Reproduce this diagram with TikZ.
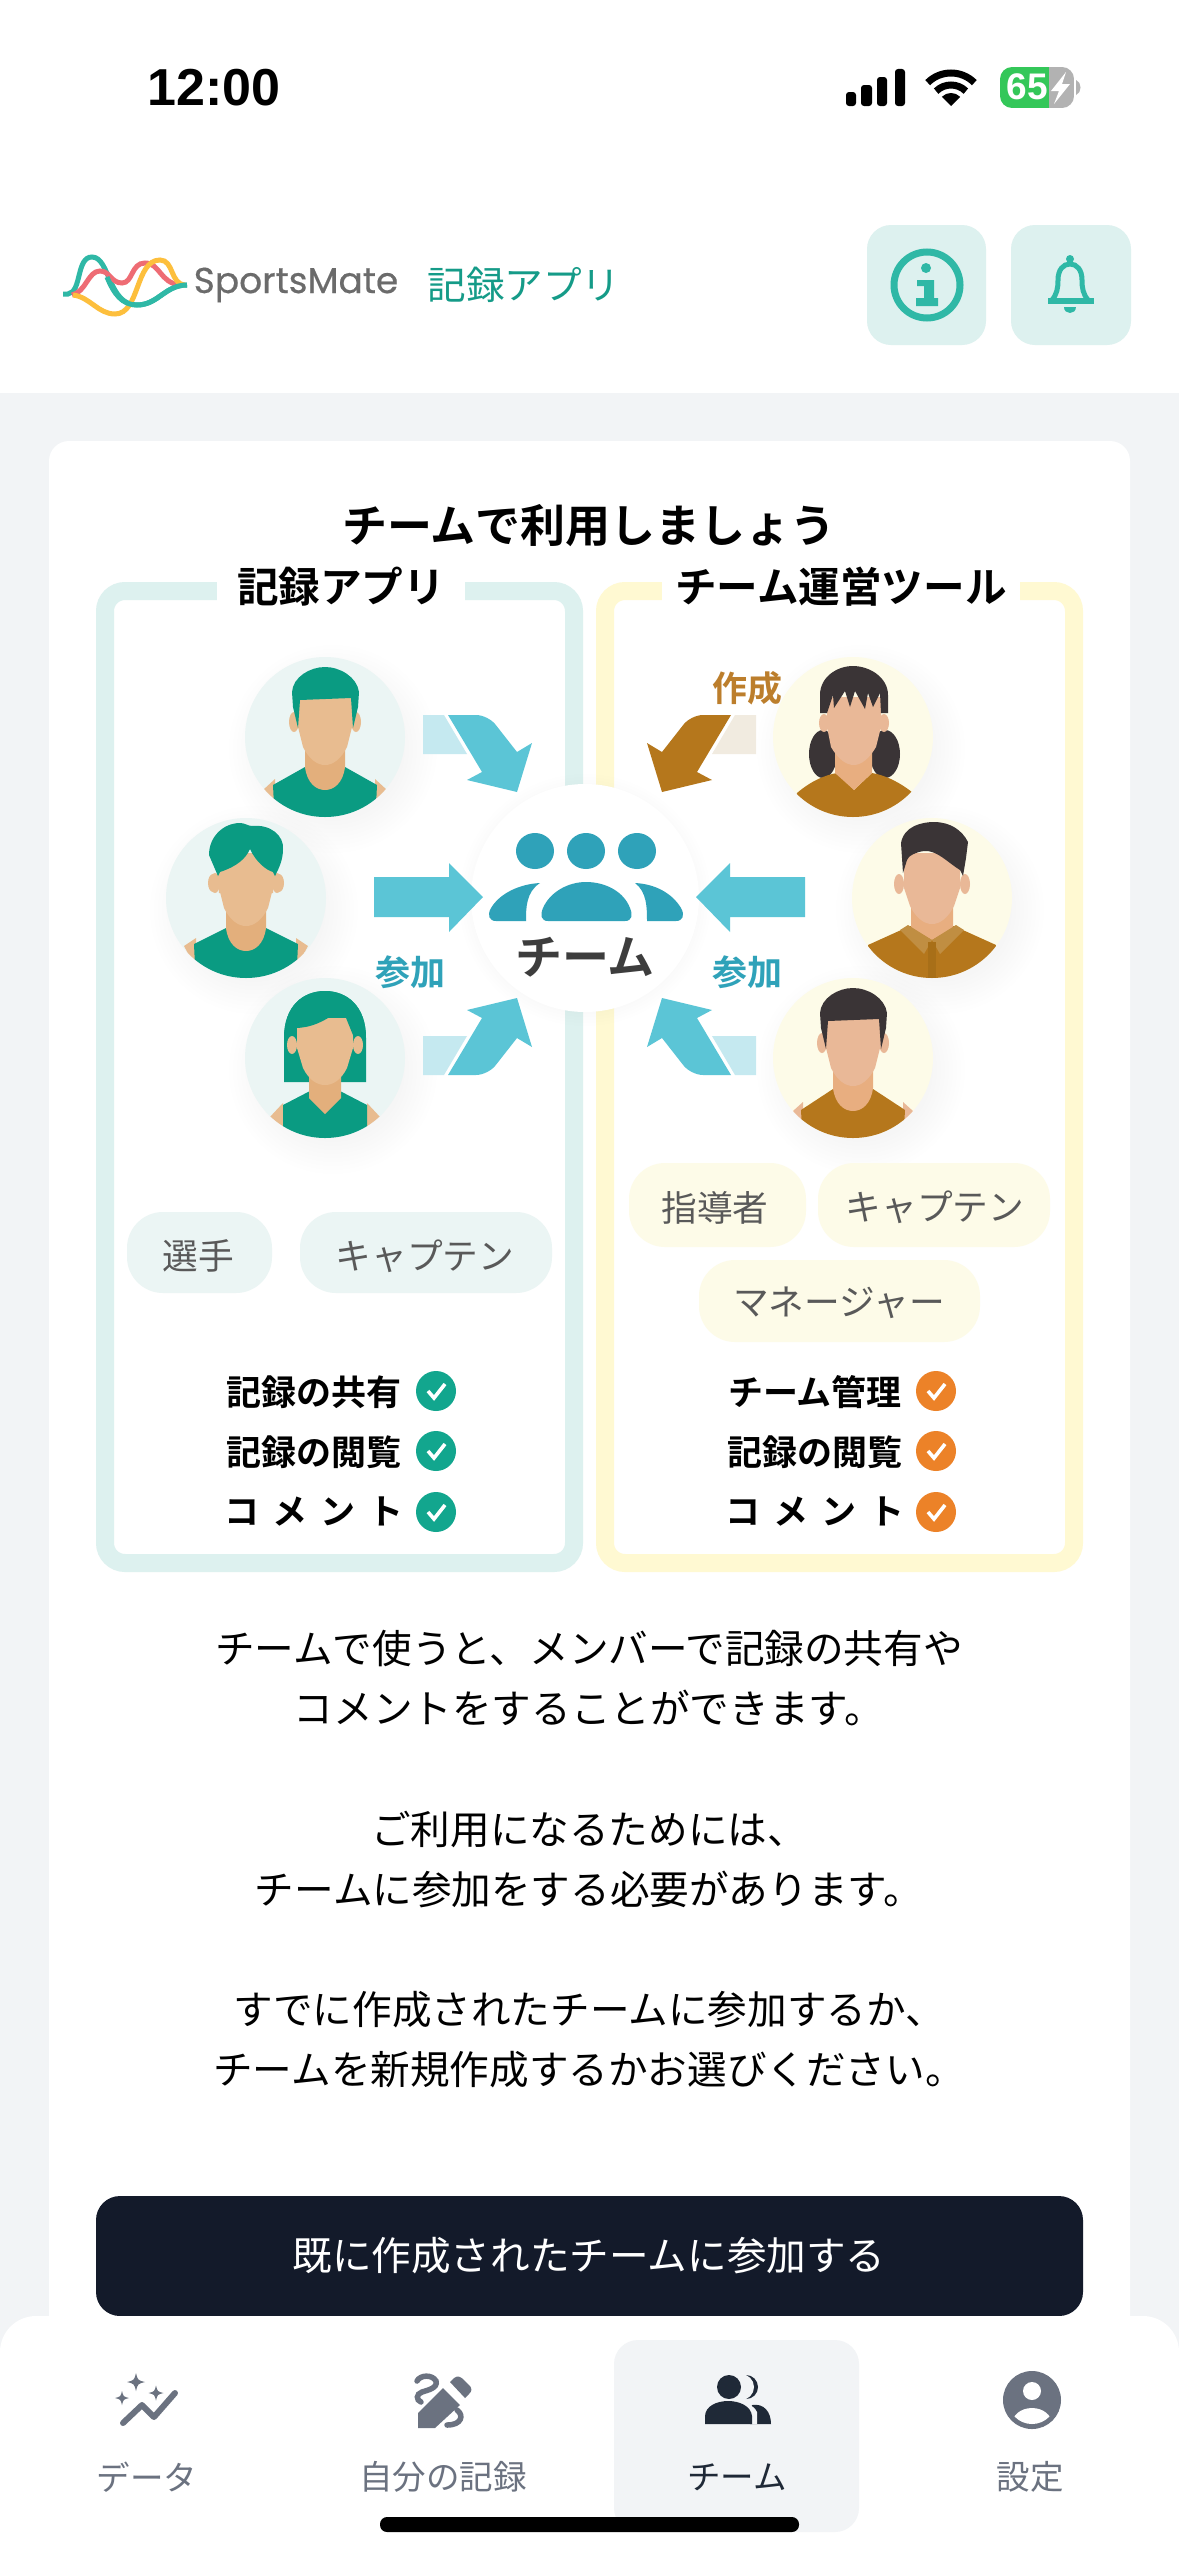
\documentclass[tikz,border=0pt]{standalone}
\usepackage{fontspec}
\usepackage{xcolor}
\setmainfont[BoldFont={Noto Sans CJK JP Bold}]{Noto Sans CJK JP}
\newfontfamily\latinfont{Liberation Sans}
\newfontfamily\logofont[FakeBold=.5]{Poppins}
\newcommand{\fsz}[1]{\fontsize{#1pt}{#1pt}\selectfont}

\definecolor{pagegray}{HTML}{F2F4F6}
\definecolor{tealpale}{HTML}{DDF1EF}
\definecolor{tealicon}{HTML}{2FB8A6}
\definecolor{tealtext}{HTML}{159B88}
\definecolor{tealdisc}{HTML}{EBF5F4}
\definecolor{creamline}{HTML}{FFF9D2}
\definecolor{creamdisc}{HTML}{FDFBE8}
\definecolor{shirtgreen}{HTML}{0A9B82}
\definecolor{shirtbrown}{HTML}{B5771C}
\definecolor{collarbrown}{HTML}{C08E42}
\definecolor{placketbrown}{HTML}{A86F18}
\definecolor{skinlight}{HTML}{E8BC90}
\definecolor{necklight}{HTML}{E3AF7C}
\definecolor{skinwarm}{HTML}{E9B897}
\definecolor{neckwarm}{HTML}{E8AE80}
\definecolor{hairdark}{HTML}{3A3436}
\definecolor{arrowblue}{HTML}{5BC5D6}
\definecolor{arrowpale}{HTML}{C5E9F0}
\definecolor{arrowsand}{HTML}{F1EBE0}
\definecolor{teamblue}{HTML}{2FA2B9}
\definecolor{labelbrown}{HTML}{BC7E2C}
\definecolor{checkgreen}{HTML}{12A68E}
\definecolor{checkorange}{HTML}{EC8228}
\definecolor{buttonnavy}{HTML}{131A2A}
\definecolor{tabgray}{HTML}{6B7280}
\definecolor{tabdark}{HTML}{1F2937}
\definecolor{batterygreen}{HTML}{34C759}
\definecolor{logoyellow}{HTML}{FDBF3D}
\definecolor{logored}{HTML}{EE6C74}

\tikzstyle{txt}=[inner sep=0pt,text=black]
\tikzstyle{body}=[txt,font=\fsz{39.6}]
\tikzstyle{tabtxt}=[txt,font=\fsz{33.5},text=tabgray]
\tikzstyle{rolepill}=[rounded corners=36pt]
\tikzstyle{roletxt}=[txt,font=\fsz{35.7},text=black!65]
\tikzstyle{feature}=[txt,font=\fsz{35}\bfseries]
\tikzstyle{joinlabel}=[txt,font=\fsz{35}\bfseries,text=teamblue]
\tikzstyle{panel}=[line width=18pt,rounded corners=20pt]
\tikzstyle{paneltitle}=[txt,fill=white,font=\fsz{41.6}\bfseries]

% one disc with its soft shadow, origin at the disc centre
\newcommand{\avatardisc}[1]{
  \foreach \r in {72,76,...,104} {\fill[black,opacity=.004] (8,12) circle (\r);}
  \fill[#1] (0,0) circle (80);
}
\newcommand{\facehead}[2]{
  \fill[#1] (-31,-15) ellipse (5 and 10);
  \fill[#1] (31,-15) ellipse (5 and 10);
  \fill[#2] (-20,8) -- (-20,30) .. controls (-18,46) and (-9,53) .. (0,53) .. controls (9,53) and (18,46) .. (20,30) -- (20,8) -- cycle;
  \fill[#1] (-27,-45) -- (27,-45) -- (27,-10) -- (22,10) .. controls (16,22) and (8,28) .. (0,28) .. controls (-8,28) and (-16,22) .. (-22,10) -- (-27,-10) -- cycle;
}
\newcommand{\shorthair}[1]{
  \fill[#1] (-27,-9) -- (-32,-30) -- (-33,-45) .. controls (-32,-60) and (-15,-70) .. (0,-70) .. controls (15,-70) and (32,-60) .. (34,-45) -- (33,-30) -- (28,-9) -- (26,-39) -- (-25,-37) -- cycle;
}
\newcommand{\sparklestar}[3]{
  \fill[tabgray] (#1,#2-#3) .. controls (#1+#3*.2,#2-#3*.2) .. (#1+#3,#2) .. controls (#1+#3*.2,#2+#3*.2) .. (#1,#2+#3) .. controls (#1-#3*.2,#2+#3*.2) .. (#1-#3,#2) .. controls (#1-#3*.2,#2-#3*.2) .. cycle;
}
\newcommand{\tickdisc}[3]{
  \fill[#1] (#2,#3) circle (20);
  \draw[white,line width=3.6pt] (#2-8,#3+0) -- (#2-2,#3+7) -- (#2+9,#3-7);
}
\newcommand{\arrowdiag}[4]{
  \begin{scope}[shift={(589.5,895)},xscale=#1,yscale=#2]
    \fill[#4] (-166.5,-180) -- (-145.5,-180) -- (-122.5,-141) -- (-166.5,-141) -- cycle;
    \fill[#3] (-141.5,-180) [rounded corners=12pt] -- (-101.5,-180) [sharp corners] -- (-72.5,-143) -- (-57.5,-152) -- (-72.5,-103) -- (-122.5,-115) -- (-107.5,-123) -- cycle;
  \end{scope}
}
\newcommand{\arrowflat}[1]{
  \begin{scope}[shift={(589.5,895)},xscale=#1]
    \fill[arrowblue] (-215.5,-18) -- (-140.5,-18) -- (-140.5,-32) -- (-106.5,2) -- (-140.5,37) -- (-140.5,22) -- (-215.5,22) -- cycle;
  \end{scope}
}

\begin{document}
\begin{tikzpicture}[x=1pt,y=-1pt]
  \useasboundingbox (0,0) rectangle (1179,2556);
  \fill[pagegray] (0,0) rectangle (1179,2556);
  \fill[white] (0,0) rectangle (1179,393);
  \fill[white,rounded corners=20pt] (49,441) rectangle (1130,2400);

  % status bar
  \node at (214,88) [txt,font=\latinfont\fsz{52}\bfseries] (time) {12:00};
  \fill[rounded corners=3pt] (846,92) rectangle (856,106);
  \fill[rounded corners=3pt] (861,85) rectangle (872,106);
  \fill[rounded corners=3pt] (877,77) rectangle (887,106);
  \fill[rounded corners=3pt] (895,69) rectangle (905,106);
  \begin{scope}[shift={(951,106)},yscale=-1]
    \fill (0,0) -- (45:13) arc (45:135:13) -- cycle;
    \draw[line width=7pt] (45:21) arc (45:135:21);
    \draw[line width=7pt] (45:33) arc (45:135:33);
  \end{scope}
  \fill[black!30] (1076,80) .. controls (1082,82) and (1082,93) .. (1076,95) -- cycle;
  \begin{scope}
    \clip[rounded corners=12pt] (1000,67) rectangle (1074,108);
    \fill[batterygreen] (1000,67) rectangle (1049,108);
    \fill[black!30] (1049,67) rectangle (1074,108);
  \end{scope}
  \node at (1027,87) [txt,text=white,font=\latinfont\fsz{37}\bfseries] (battery) {65};
  \fill[white] (1066,72) -- (1051,91) -- (1059,91) -- (1054,104) -- (1070,84) -- (1062,84) -- cycle;

  % header
  \draw[tealicon,line width=5pt] (63,294) -- (68,294) .. controls (82,292) and (76,257) .. (92,257) .. controls (110,257) and (108,305) .. (137,305) .. controls (158,305) and (165,285) .. (187,285);
  \draw[logored,line width=5pt] (72,295) .. controls (86,292) and (88,271) .. (100,271) .. controls (110,271) and (111,283) .. (122,283) .. controls (133,283) and (131,263) .. (145,263) .. controls (160,263) and (160,283) .. (180,285);
  \draw[logoyellow,line width=5pt] (73,295) .. controls (90,297) and (98,314) .. (115,314) .. controls (140,314) and (135,260) .. (160,260) .. controls (174,260) and (170,284) .. (185,285);
  \draw[tealicon,line width=5pt] (107,277) .. controls (114,294) and (122,305) .. (137,305) .. controls (158,305) and (165,285) .. (187,285);
  \node at (296,285) [txt,text=black!58,font=\logofont\fsz{36}] (logo) {SportsMate};
  \node at (524,285) [txt,text=tealtext,font=\fsz{38.6}] (appname) {記録アプリ};
  \fill[tealpale,rounded corners=24pt] (867,225) rectangle (986,345);
  \fill[tealpale,rounded corners=24pt] (1011,225) rectangle (1131,345);
  \draw[tealicon,line width=7pt] (927,285) circle (33);
  \fill[tealicon] (926,268) circle (5);
  \fill[tealicon] (917,280) -- (934,280) -- (934,298) -- (938,298) -- (938,306) -- (916,306) -- (916,298) -- (924,298) -- (924,286) -- (917,286) -- cycle;
  \draw[tealicon,line width=5pt] (1052,300) .. controls (1057,294) and (1058,288) .. (1058,280) .. controls (1058,270) and (1063,264) .. (1070,264) .. controls (1077,264) and (1082,270) .. (1082,280) .. controls (1082,288) and (1083,294) .. (1088,300);
  \fill[tealicon] (1048,298) rectangle (1094,304);
  \fill[tealicon] (1070,259) circle (4);
  \fill[tealicon] (1064,307) -- (1076,307) .. controls (1076,315) and (1064,315) .. (1064,307) -- cycle;

  % card heading and panels
  \node at (589,526) [txt,font=\fsz{45}\bfseries] (heading) {チームで利用しましょう};
  \draw[panel,draw=tealpale] (105,591) rectangle (574,1563);
  \draw[panel,draw=creamline] (605,591) rectangle (1074,1563);
  \node at (341,587) [paneltitle,minimum width=248pt,minimum height=44pt] (recordtitle) {記録アプリ};
  \node at (841,587) [paneltitle,minimum width=358pt,minimum height=44pt] (teamtitle) {チーム運営ツール};

  % left avatars
  \begin{scope}[shift={(325,737)}]
    \avatardisc{tealdisc}
    \begin{scope}
      \clip (0,0) circle (80);
      \fill[skinlight] (-62,53) -- (-50,42) -- (-50,70) -- cycle;
      \fill[skinlight] (62,53) -- (50,42) -- (50,70) -- cycle;
      \fill[shirtgreen] (-52,48) -- (-20,30) -- (20,30) -- (52,48) -- (50,90) -- (-50,90) -- cycle;
      \facehead{skinlight}{necklight}
      \shorthair{shirtgreen}
    \end{scope}
  \end{scope}
  \begin{scope}[shift={(246,898)}]
    \avatardisc{tealdisc}
    \begin{scope}
      \clip (0,0) circle (80);
      \fill[skinlight] (-62,48) -- (-50,40) -- (-50,70) -- cycle;
      \fill[skinlight] (62,48) -- (50,40) -- (50,70) -- cycle;
      \fill[shirtgreen] (-52,46) -- (-20,30) -- (20,30) -- (52,46) -- (50,90) -- (-50,90) -- cycle;
      \facehead{skinlight}{necklight}
      \fill[skinlight] (-29,-35) -- (29,-35) -- (27,-5) -- (-27,-5) -- cycle;
      \fill[skinlight] (-33,-15) ellipse (5 and 9);
      \fill[skinlight] (33,-15) ellipse (5 and 9);
      \fill[shirtgreen] (-28,-22) -- (-37,-43) .. controls (-37,-62) and (-22,-75) .. (-6,-75) .. controls (-1,-75) and (2,-72) .. (6,-72) .. controls (25,-74) and (38,-62) .. (37,-49) .. controls (37,-38) and (33,-30) .. (29,-22) -- (27,-26) .. controls (20,-28) and (10,-36) .. (4,-49) .. controls (0,-40) and (-8,-32) .. (-26,-26) -- cycle;
    \end{scope}
  \end{scope}
  \begin{scope}[shift={(325,1058)}]
    \avatardisc{tealdisc}
    \begin{scope}
      \clip (0,0) circle (80);
      \fill[shirtgreen] (-41,24) -- (-41,-20) .. controls (-41,-52) and (-22,-67) .. (0,-67) .. controls (22,-67) and (41,-52) .. (41,-20) -- (41,24) -- cycle;
      \fill[skinlight] (-42,45) -- (-56,60) -- (-42,76) -- cycle;
      \fill[skinlight] (42,45) -- (56,60) -- (42,76) -- cycle;
      \fill[shirtgreen] (-42,47) -- (-15,33) -- (15,33) -- (42,47) -- (42,90) -- (-42,90) -- cycle;
      \fill[necklight] (-16,10) -- (-16,40) -- (0,56) -- (16,40) -- (16,10) -- cycle;
      \fill[skinlight] (-28,-40) -- (28,-40) -- (28,-10) -- (22,10) .. controls (16,22) and (8,27) .. (0,27) .. controls (-8,27) and (-16,22) .. (-22,10) -- (-28,-10) -- cycle;
      \fill[shirtgreen] (-41,-20) .. controls (-41,-52) and (-22,-67) .. (0,-67) .. controls (22,-67) and (41,-52) .. (41,-20) -- (30,-18) -- (17,-50) .. controls (0,-36) and (-15,-30) .. (-30,-30) -- (-30,-20) -- cycle;
      \fill[skinlight] (-33,-13) ellipse (5 and 9);
      \fill[skinlight] (33,-13) ellipse (5 and 9);
    \end{scope}
  \end{scope}

  % right avatars
  \begin{scope}[shift={(853,737)}]
    \avatardisc{creamdisc}
    \begin{scope}
      \clip (0,0) circle (80);
      \fill[hairdark] (-30,17) ellipse (14 and 24);
      \fill[hairdark] (32,17) ellipse (15 and 24);
      \fill[shirtbrown] (-56,56) .. controls (-42,44) and (-28,38) .. (-16,36) -- (1,53) -- (19,36) .. controls (32,38) and (48,46) .. (60,56) -- (60,90) -- (-60,90) -- cycle;
      \fill[neckwarm] (-18,10) -- (-18,36) -- (1,53) -- (19,36) -- (19,10) -- cycle;
      \fill[skinwarm] (-29,-14) ellipse (5 and 9);
      \fill[skinwarm] (31,-14) ellipse (5 and 9);
      \fill[skinwarm] (-26,-40) -- (28,-40) -- (28,-10) -- (23,10) .. controls (16,22) and (8,28) .. (1,28) .. controls (-7,28) and (-15,22) .. (-22,10) -- (-26,-10) -- cycle;
      \fill[hairdark] (-26,-24) -- (-33,-24) -- (-33,-42) .. controls (-33,-60) and (-16,-71) .. (0,-71) .. controls (16,-71) and (35,-60) .. (35,-42) -- (35,-24) -- (28,-24) -- (27,-44) -- (20,-30) -- (15,-44) -- (12,-28) -- (2,-46) -- (-3,-30) -- (-8,-46) -- (-19,-29) -- (-20,-42) -- cycle;
    \end{scope}
  \end{scope}
  \begin{scope}[shift={(932,898)}]
    \avatardisc{creamdisc}
    \begin{scope}
      \clip (0,0) circle (80);
      \fill[shirtbrown] (-64,47) -- (-22,28) -- (22,28) -- (64,47) -- (64,90) -- (-64,90) -- cycle;
      \fill[neckwarm] (-21,5) -- (-21,30) -- (0,42) -- (21,30) -- (21,5) -- cycle;
      \fill[collarbrown] (-24,27) -- (0,42) -- (-8,56) -- (-32,32) -- cycle;
      \fill[collarbrown] (24,27) -- (0,42) -- (8,56) -- (32,32) -- cycle;
      \fill[placketbrown] (-4,44) -- (4,44) -- (4,80) -- (-4,80) -- cycle;
      \fill[skinwarm] (-33,-14) ellipse (5 and 10);
      \fill[skinwarm] (33,-14) ellipse (5 and 10);
      \fill[skinwarm] (-28,-45) -- (28,-45) -- (28,-10) -- (22,8) .. controls (16,20) and (8,26) .. (0,26) .. controls (-8,26) and (-16,20) .. (-22,8) -- (-28,-10) -- cycle;
      \fill[hairdark] (-29,-25) -- (-31,-55) .. controls (-28,-72) and (-10,-76) .. (2,-76) .. controls (18,-76) and (30,-68) .. (36,-56) -- (34,-40) -- (31,-22) -- (28,-28) .. controls (15,-36) and (5,-48) .. (-8,-47) .. controls (-16,-46) and (-24,-42) .. (-25,-38) -- cycle;
    \end{scope}
  \end{scope}
  \begin{scope}[shift={(853,1058)}]
    \avatardisc{creamdisc}
    \begin{scope}
      \clip (0,0) circle (80);
      \fill[skinwarm] (-60,53) -- (-50,44) -- (-50,70) -- cycle;
      \fill[skinwarm] (60,53) -- (50,44) -- (50,70) -- cycle;
      \fill[shirtbrown] (-52,52) -- (-20,31) -- (20,31) -- (52,52) -- (50,90) -- (-50,90) -- cycle;
      \facehead{skinwarm}{neckwarm}
      \shorthair{hairdark}
    \end{scope}
  \end{scope}

  % team disc and arrows
  \foreach \r in {108,111,...,128} {\fill[black,opacity=.004] (585,900) circle (\r);}
  \fill[white] (585,898) circle (114);
  \arrowdiag{1}{1}{arrowblue}{arrowpale}
  \arrowdiag{1}{-1}{arrowblue}{arrowpale}
  \arrowdiag{-1}{1}{shirtbrown}{arrowsand}
  \arrowdiag{-1}{-1}{arrowblue}{arrowpale}
  \arrowflat{1}
  \arrowflat{-1}
  \fill[teamblue] (535,851) ellipse (19 and 18);
  \fill[teamblue] (586,851) ellipse (19 and 18);
  \fill[teamblue] (637,851) ellipse (19 and 18);
  \fill[teamblue] (496,921) .. controls (489,921) and (487,915) .. (491,908) .. controls (500,893) and (520,884) .. (540,883) .. controls (526,892) and (526,908) .. (526,921) -- cycle;
  \fill[teamblue] (548,921) .. controls (541,921) and (540,915) .. (543,908) .. controls (550,892) and (568,882) .. (586,882) .. controls (606,882) and (624,892) .. (630,908) .. controls (633,915) and (632,921) .. (625,921) -- cycle;
  \fill[teamblue] (676,921) .. controls (683,921) and (685,915) .. (681,908) .. controls (672,893) and (655,884) .. (635,883) .. controls (647,892) and (647,908) .. (647,921) -- cycle;
  \node at (585,957) [txt,text=black!76,font=\fsz{47}\bfseries] (team) {チーム};
  \node at (410,972) [joinlabel] (joinleft) {参加};
  \node at (747,972) [joinlabel] (joinright) {参加};
  \node at (747,688) [joinlabel,text=labelbrown] (create) {作成};

  % role pills
  \fill[tealdisc,rolepill] (127,1212) rectangle (272,1293);
  \fill[tealdisc,rolepill] (300,1212) rectangle (552,1293);
  \fill[creamdisc,rolepill] (629,1163) rectangle (806,1247);
  \fill[creamdisc,rolepill] (818,1163) rectangle (1050,1247);
  \fill[creamdisc,rolepill] (699,1260) rectangle (980,1342);
  \node at (198,1256) [roletxt] (player) {選手};
  \node at (425,1256) [roletxt] (captainleft) {キャプテン};
  \node at (715,1208) [roletxt] (coach) {指導者};
  \node at (935,1207) [roletxt] (captainright) {キャプテン};
  \node at (839,1303) [roletxt] (manager) {マネージャー};

  % feature lists
  \node at (314,1392) [feature] (shareleft) {記録の共有};
  \node at (314,1452) [feature] (viewleft) {記録の閲覧};
  \node at (314,1512) [feature] (commentleft) {\addfontfeature{LetterSpace=38}コメント};
  \node at (815,1392) [feature] (manageright) {チーム管理};
  \node at (815,1452) [feature] (viewright) {記録の閲覧};
  \node at (815,1512) [feature] (commentright) {\addfontfeature{LetterSpace=38}コメント};
  \foreach \y in {1391,1451,1512} {
    \tickdisc{checkgreen}{436}{\y}
    \tickdisc{checkorange}{936}{\y}
  }

  % body text
  \node at (589,1648) [body] (lineone) {チームで使うと、メンバーで記録の共有や};
  \node at (589,1708) [body] (linetwo) {コメントをすることができます。};
  \node at (589,1829) [body] (linethree) {ご利用になるためには、};
  \node at (589,1889) [body] (linefour) {チームに参加をする必要があります。};
  \node at (589,2010) [body] (linefive) {すでに作成されたチームに参加するか、};
  \node at (589,2070) [body] (linesix) {チームを新規作成するかお選びください。};

  % join button
  \fill[buttonnavy,rounded corners=24pt] (96,2196) rectangle (1083,2316);
  \node at (589,2256) [body,text=white] (joinbutton) {既に作成されたチームに参加する};

  % tab bar
  \fill[white,rounded corners=36pt] (0,2316) rectangle (1179,2620);
  \fill[pagegray,rounded corners=24pt] (614,2340) rectangle (859,2532);
  \fill[rounded corners=7pt] (380,2517) rectangle (799,2532);
  \sparklestar{136}{2382}{9}
  \sparklestar{156}{2393}{7.5}
  \sparklestar{122}{2398}{7}
  \draw[tabgray,line width=6pt,line cap=round,line join=round] (123,2423) -- (142,2405) -- (154,2417) -- (175,2393);
  \fill[tabgray] (418,2428) -- (418,2413) -- (443,2388) -- (460,2405) -- (435,2428) -- cycle;
  \fill[tabgray] (450,2382) -- (454,2378) .. controls (458,2375) and (461,2377) .. (464,2380) -- (470,2386) .. controls (472,2389) and (472,2391) .. (469,2394) -- (465,2398) -- cycle;
  \draw[tabgray,line width=5.5pt,line cap=round] (417,2381) .. controls (420,2375) and (432,2374) .. (436,2381) .. controls (438,2388) and (428,2390) .. (422,2392) .. controls (416,2394) and (416,2400) .. (421,2402);
  \draw[tabgray,line width=5.5pt,line cap=round] (457,2410) .. controls (464,2415) and (462,2425) .. (447,2425);
  \fill[tabdark] (746,2387) circle (12);
  \fill[tabdark] (750,2424) -- (752,2405) .. controls (764,2403) and (771,2412) .. (771,2424) -- cycle;
  \fill[pagegray] (741,2387) circle (13);
  \fill[pagegray] (705,2424) -- (705,2412) .. controls (708,2398) and (750,2396) .. (757,2412) -- (757,2424) -- cycle;
  \fill[tabdark] (729,2387) circle (12);
  \fill[tabdark] (705,2424) -- (705,2416) .. controls (706,2396) and (750,2396) .. (752,2416) -- (752,2424) -- cycle;
  \fill[tabgray] (1032,2400) circle (29);
  \fill[white] (1032,2391) circle (9);
  \begin{scope}
    \clip (1032,2400) circle (24);
    \fill[white] (1032,2424) ellipse (20 and 16);
  \end{scope}
  \node at (147,2477) [tabtxt] (tabdata) {データ};
  \node at (443,2477) [tabtxt] (tabrecord) {自分の記録};
  \node at (737,2477) [tabtxt,text=tabdark] (tabteam) {チーム};
  \node at (1030,2477) [tabtxt] (tabsettings) {設定};
\end{tikzpicture}
\end{document}
